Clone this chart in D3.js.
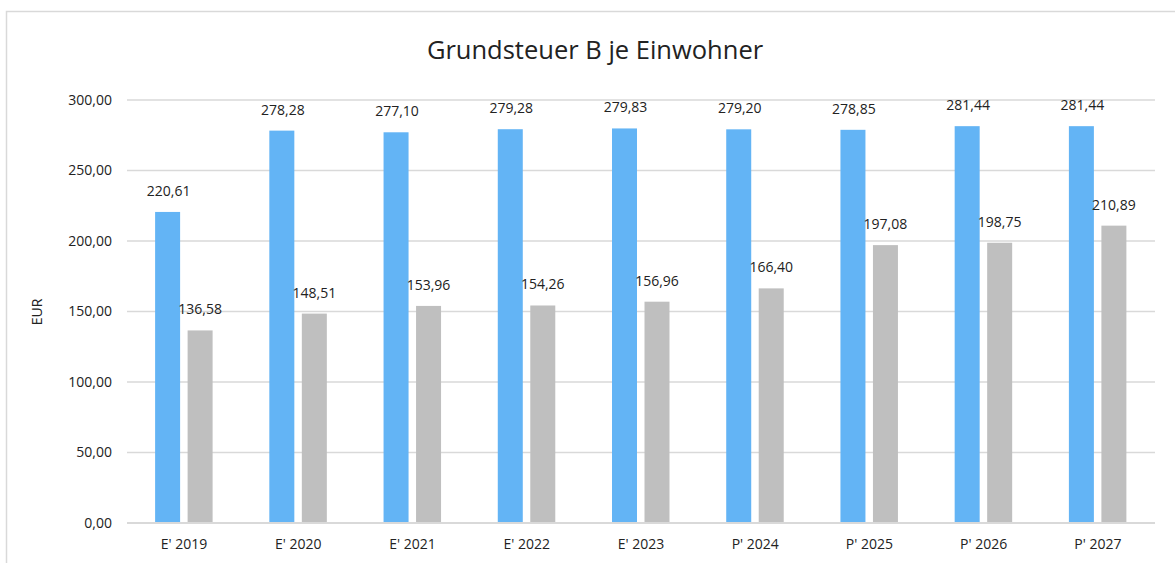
<!DOCTYPE html>
<html lang="de">
<head>
    <meta charset="UTF-8">
    <title>Grundsteuer B je Einwohner</title>
    <script src="https://d3js.org/d3.v7.min.js"></script>
    <style>
        body { margin: 0; background: #fff; }
        svg text { font-family: "Open Sans", "Noto Sans", sans-serif; fill: #222; }
    </style>
</head>
<body>
<script>
    // chart data
    var categories = ["E' 2019", "E' 2020", "E' 2021", "E' 2022", "E' 2023", "P' 2024", "P' 2025", "P' 2026", "P' 2027"];
    var seriesBlue = [220.61, 278.28, 277.10, 279.28, 279.83, 279.20, 278.85, 281.44, 281.44];
    var seriesGray = [136.58, 148.51, 153.96, 154.26, 156.96, 166.40, 197.08, 198.75, 210.89];
    var yTicks = [0, 50, 100, 150, 200, 250, 300];

    var w = 1175, h = 563;
    var margin = {left: 127, right: 20, top: 100, bottom: 40};

    var svg = d3.select("body").append("svg")
        .attr("width", w)
        .attr("height", h);

    // outer frame (clipped at right and bottom)
    svg.append("rect")
        .attr("x", 6.5).attr("y", 11.5)
        .attr("width", w).attr("height", h)
        .attr("fill", "none")
        .attr("stroke", "#d9d9d9")
        .attr("stroke-width", 1.5);

    var xScale = d3.scaleBand()
        .domain(categories)
        .range([margin.left, 1155]);

    var yScale = d3.scaleLinear()
        .domain([0, 300])
        .range([523, 100]);

    var fmt = function(v) { return d3.format(".2f")(v).replace(".", ","); };

    // gridlines
    svg.selectAll("line.grid")
        .data(yTicks)
        .enter()
        .append("line")
        .attr("class", "grid")
        .attr("x1", margin.left)
        .attr("x2", 1155)
        .attr("y1", function(d) { return yScale(d); })
        .attr("y2", function(d) { return yScale(d); })
        .attr("stroke", "#d9d9d9")
        .attr("stroke-width", 1.5);

    // y tick labels
    svg.selectAll("text.ytick")
        .data(yTicks)
        .enter()
        .append("text")
        .attr("class", "ytick")
        .attr("x", 112)
        .attr("y", function(d) { return yScale(d); })
        .attr("dy", "0.35em")
        .attr("text-anchor", "end")
        .attr("font-size", "14px")
        .text(fmt);

    var barW = 25;
    var blueOff = -29, grayOff = 3.5;

    // blue bars
    svg.selectAll("rect.blue")
        .data(seriesBlue)
        .enter()
        .append("rect")
        .attr("class", "blue")
        .attr("x", function(d, i) { return xScale(categories[i]) + xScale.bandwidth() / 2 + blueOff; })
        .attr("y", function(d) { return yScale(d); })
        .attr("width", barW)
        .attr("height", function(d) { return yScale(0) - yScale(d); })
        .attr("fill", "#63b4f5");

    // gray bars
    svg.selectAll("rect.gray")
        .data(seriesGray)
        .enter()
        .append("rect")
        .attr("class", "gray")
        .attr("x", function(d, i) { return xScale(categories[i]) + xScale.bandwidth() / 2 + grayOff; })
        .attr("y", function(d) { return yScale(d); })
        .attr("width", barW)
        .attr("height", function(d) { return yScale(0) - yScale(d); })
        .attr("fill", "#bfbfbf");

    // baseline
    svg.append("line")
        .attr("x1", margin.left).attr("x2", 1155)
        .attr("y1", yScale(0)).attr("y2", yScale(0))
        .attr("stroke", "#d9d9d9")
        .attr("stroke-width", 2);

    // value labels
    svg.selectAll("text.lblBlue")
        .data(seriesBlue)
        .enter()
        .append("text")
        .attr("class", "lblBlue")
        .attr("x", function(d, i) { return xScale(categories[i]) + xScale.bandwidth() / 2 + blueOff + barW / 2 + 1; })
        .attr("y", function(d) { return yScale(d) - 16; })
        .attr("text-anchor", "middle")
        .attr("font-size", "14px")
        .text(fmt);

    svg.selectAll("text.lblGray")
        .data(seriesGray)
        .enter()
        .append("text")
        .attr("class", "lblGray")
        .attr("x", function(d, i) { return xScale(categories[i]) + xScale.bandwidth() / 2 + grayOff + barW / 2; })
        .attr("y", function(d) { return yScale(d) - 16; })
        .attr("text-anchor", "middle")
        .attr("font-size", "14px")
        .text(fmt);

    // x labels
    svg.selectAll("text.xtick")
        .data(categories)
        .enter()
        .append("text")
        .attr("class", "xtick")
        .attr("x", function(d) { return xScale(d) + xScale.bandwidth() / 2; })
        .attr("y", 549)
        .attr("text-anchor", "middle")
        .attr("font-size", "14px")
        .text(function(d) { return d; });

    // y axis title
    svg.append("text")
        .attr("transform", "translate(42,312) rotate(-90)")
        .attr("text-anchor", "middle")
        .attr("font-size", "14px")
        .text("EUR");

    // chart title
    svg.append("text")
        .attr("x", 595)
        .attr("y", 59)
        .attr("text-anchor", "middle")
        .attr("font-size", "25.5px")
        .text("Grundsteuer B je Einwohner");
</script>
</body>
</html>
